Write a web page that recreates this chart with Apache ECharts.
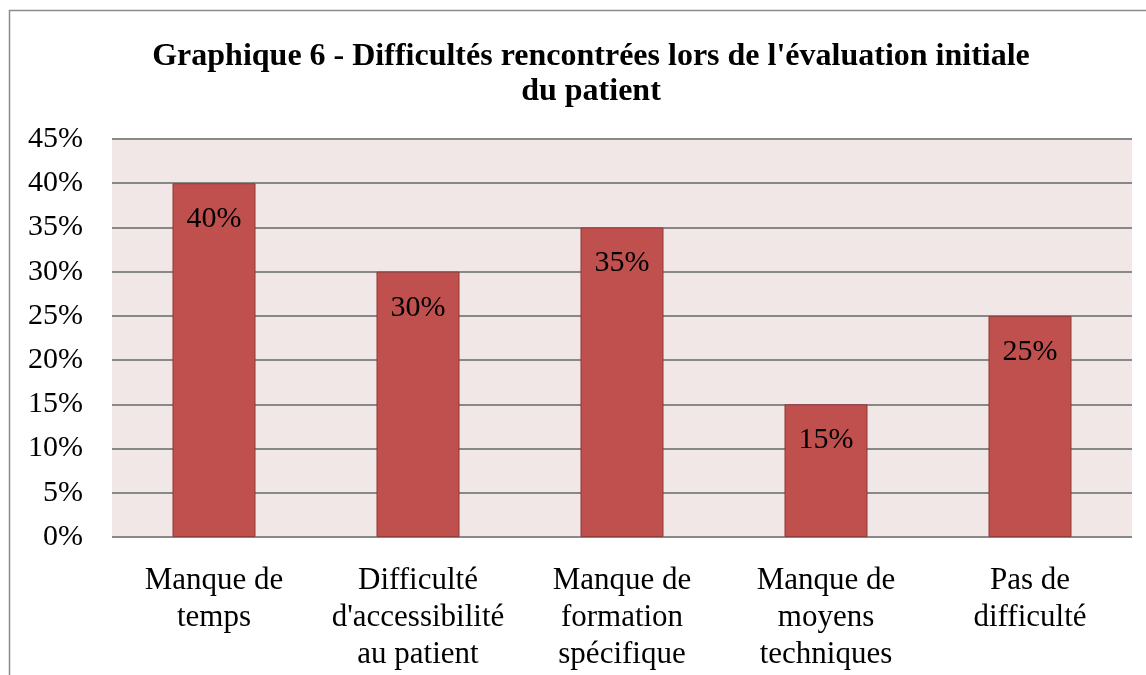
<!DOCTYPE html>
<html><head><meta charset="utf-8">
<script src="https://cdn.jsdelivr.net/npm/echarts@6/dist/echarts.min.js"></script>
<style>html,body{margin:0;padding:0;background:#fff}#c{width:1146px;height:675px}</style>
</head><body><div id="c"></div>
<script>
const categories = ["Manque de\ntemps", "Difficulté\nd'accessibilité\nau patient", "Manque de\nformation\nspécifique", "Manque de\nmoyens\ntechniques", "Pas de\ndifficulté"];
const values = [40, 30, 35, 15, 25];
const titleText = "Graphique 6 - Difficultés rencontrées lors de l'évaluation initiale\ndu patient";
const font = "'Liberation Serif', 'Times New Roman', serif";
const chart = echarts.init(document.getElementById('c'));
chart.setOption({
  animation: false,
  graphic: [{type:'rect', shape:{x:9.5,y:10.5,width:1200,height:700}, style:{fill:'none', stroke:'#8c8c8c', lineWidth:1.5}, z:-10}],
  title: {text: titleText, left: 586, top: 34, textAlign: 'center',
    textStyle: {fontFamily: font, fontSize: 32, fontWeight: 'bold', color: '#000', lineHeight: 35}},
  grid: {left: 112, right: 14, top: 139, bottom: 138, backgroundColor: '#F2E7E7', show: true, borderWidth: 0},
  xAxis: {type: 'category', data: categories,
    axisLine: {show: false}, axisTick: {show: false},
    axisLabel: {interval: 0, fontFamily: font, fontSize: 31, color: '#000', lineHeight: 37, margin: 25}},
  yAxis: {type: 'value', min: 0, max: 45, interval: 5,
    axisLine: {show: false}, axisTick: {show: false},
    axisLabel: {formatter: '{value}%', fontFamily: font, fontSize: 30, color: '#000', margin: 29},
    splitLine: {lineStyle: {color: '#888888', width: 2}}},
  series: [{type: 'bar', data: values, barWidth: '40.7%',
    itemStyle: {color: '#C0504D', borderColor: '#8E3B39', borderWidth: 1},
    label: {show: true, position: 'insideTop', distance: 21, formatter: '{c}%', fontFamily: font, fontSize: 30, color: '#000'}}]
});
</script></body></html>
